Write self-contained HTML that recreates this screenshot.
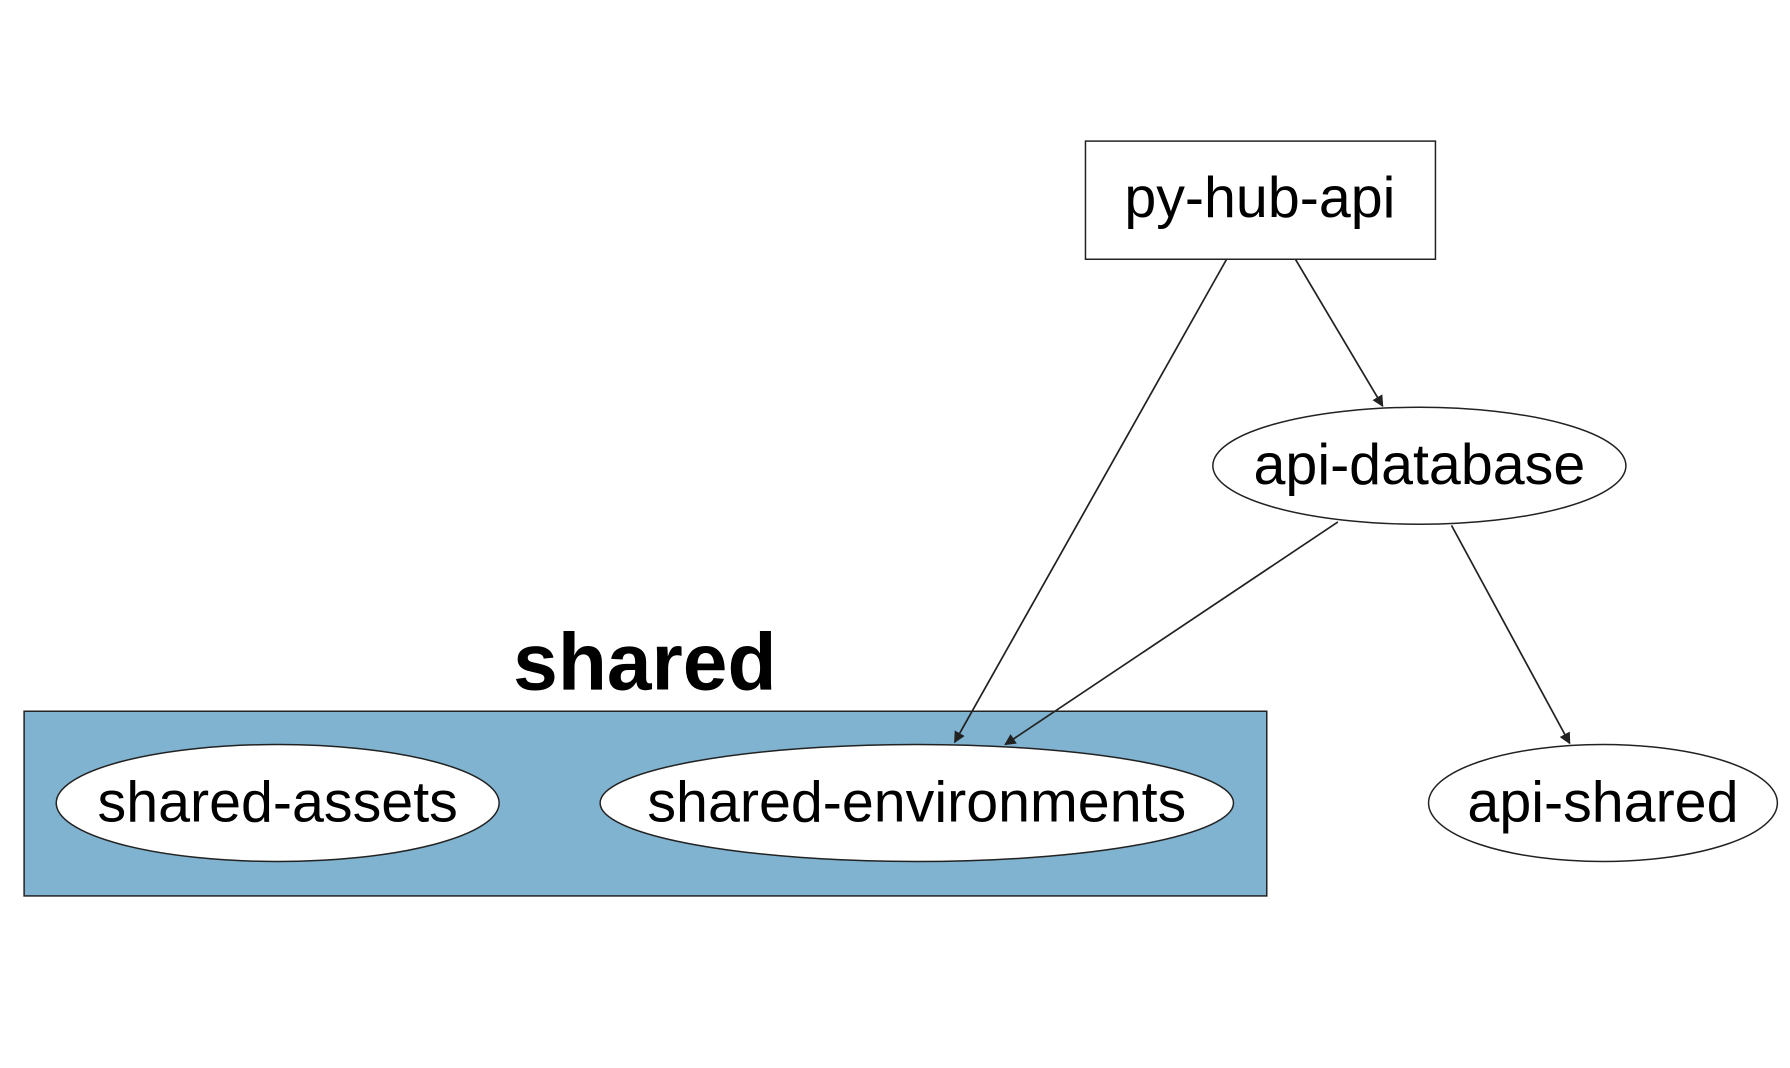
<!DOCTYPE html>
<html><head><meta charset="utf-8"><style>html,body{margin:0;padding:0;background:#fff;}svg{display:block;}</style></head>
<body>
<svg width="1790" height="1068" viewBox="0 0 1560 931" preserveAspectRatio="none" xmlns="http://www.w3.org/2000/svg">
<defs><marker id="a" markerWidth="10" markerHeight="10" refX="9" refY="5" orient="auto" markerUnits="userSpaceOnUse"><path d="M0,0 L10,5 L0,10 z" fill="#222"/></marker></defs>
<rect x="0" y="0" width="1560" height="931" fill="#fff"/>
<rect x="21" y="620" width="1083" height="161" fill="#7fb3d0" stroke="#222" stroke-width="1.3"/>
<text x="562" y="601" font-family="Liberation Sans, sans-serif" font-size="70" font-weight="bold" text-anchor="middle" fill="#000">shared</text>
<rect x="946" y="123" width="305" height="103" fill="#fff" stroke="#222" stroke-width="1.3"/>
<text x="1098" y="189" font-family="Liberation Sans, sans-serif" font-size="50" text-anchor="middle">py-hub-api</text>
<ellipse cx="1237" cy="406" rx="180" ry="51" fill="#fff" stroke="#222" stroke-width="1.3"/>
<text x="1237" y="422" font-family="Liberation Sans, sans-serif" font-size="50" text-anchor="middle">api-database</text>
<ellipse cx="242" cy="700" rx="193" ry="51" fill="#fff" stroke="#222" stroke-width="1.3"/>
<text x="242" y="716" font-family="Liberation Sans, sans-serif" font-size="50" text-anchor="middle">shared-assets</text>
<ellipse cx="799" cy="700" rx="276" ry="51" fill="#fff" stroke="#222" stroke-width="1.3"/>
<text x="799" y="716" font-family="Liberation Sans, sans-serif" font-size="50" text-anchor="middle">shared-environments</text>
<ellipse cx="1397" cy="700" rx="152" ry="51" fill="#fff" stroke="#222" stroke-width="1.3"/>
<text x="1397" y="716" font-family="Liberation Sans, sans-serif" font-size="50" text-anchor="middle">api-shared</text>
<g stroke="#222" stroke-width="1.5" fill="none">
<line x1="1069" y1="226" x2="832" y2="647" marker-end="url(#a)"/>
<line x1="1129" y1="226" x2="1205" y2="354" marker-end="url(#a)"/>
<line x1="1166" y1="455" x2="876" y2="649" marker-end="url(#a)"/>
<line x1="1265" y1="458" x2="1368" y2="648" marker-end="url(#a)"/>
</g>
</svg>
</body></html>
